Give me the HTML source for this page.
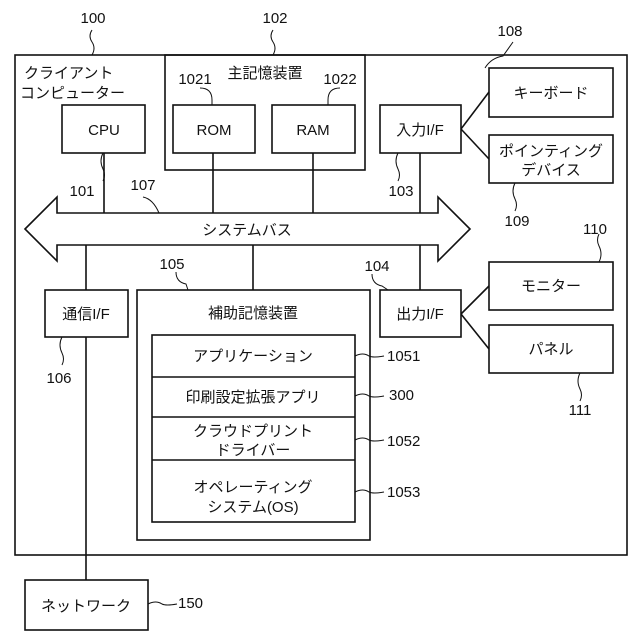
<!DOCTYPE html>
<html><head><meta charset="utf-8"><style>
html,body{margin:0;padding:0;background:#fff}
svg{display:block}
text{font-family:"Liberation Sans","Noto Sans CJK JP",sans-serif;font-size:15px;fill:#111}
.t{text-anchor:middle}
</style></head><body>
<svg width="640" height="640" viewBox="0 0 640 640" xmlns="http://www.w3.org/2000/svg">
<g fill="none" stroke="#111" stroke-width="1.6">
<rect x="15" y="55" width="612" height="500"/>
<rect x="165" y="55" width="200" height="115"/>
<rect x="62" y="105" width="83" height="48"/>
<rect x="173" y="105" width="82" height="48"/>
<rect x="272" y="105" width="83" height="48"/>
<rect x="380" y="105" width="81" height="48"/>
<rect x="489" y="68" width="124" height="49"/>
<rect x="489" y="135" width="124" height="48"/>
<path d="M25 229 L57 197 L57 213 L438 213 L438 197 L470 229 L438 261 L438 245 L57 245 L57 261 Z" fill="#fff"/>
<line x1="104" y1="153" x2="104" y2="213"/>
<line x1="213" y1="153" x2="213" y2="213"/>
<line x1="313" y1="153" x2="313" y2="213"/>
<line x1="420" y1="153" x2="420" y2="213"/>
<line x1="86" y1="245" x2="86" y2="290"/>
<line x1="253" y1="245" x2="253" y2="290"/>
<line x1="420" y1="245" x2="420" y2="290"/>
<line x1="461" y1="129" x2="489" y2="92"/>
<line x1="461" y1="129" x2="489" y2="159"/>
<rect x="45" y="290" width="83" height="47"/>
<rect x="137" y="290" width="233" height="250"/>
<rect x="152" y="335" width="203" height="187"/>
<line x1="152" y1="377" x2="355" y2="377"/>
<line x1="152" y1="417" x2="355" y2="417"/>
<line x1="152" y1="460" x2="355" y2="460"/>
<rect x="380" y="290" width="81" height="47"/>
<rect x="489" y="262" width="124" height="48"/>
<rect x="489" y="325" width="124" height="48"/>
<line x1="461" y1="314" x2="489" y2="286"/>
<line x1="461" y1="314" x2="489" y2="349"/>
<line x1="86" y1="337" x2="86" y2="580"/>
<rect x="25" y="580" width="123" height="50"/>
<g stroke-width="1">
<path d="M92 30 q-4 6 0 12 q4 6 0 13"/>
<path d="M273 30 q-4 6 0 12 q4 6 0 13"/>
<path d="M103 153 q-4 8 0 16 q3 6 0 12"/>
<path d="M143 197 q10 2 16 16"/>
<path d="M398 153 q-4 8 0 16 q3 6 0 12"/>
<path d="M176 272 q0 10 10 12 l2 6"/>
<path d="M372 274 q0 10 10 12 l6 4"/>
<path d="M62 337 q-4 8 0 16 q3 6 0 12"/>
<path d="M200 88 q12 0 12 12 l0 5"/>
<path d="M340 88 q-12 0 -12 12 l0 5"/>
<path d="M485 68 q6 -10 18 -12 l10 -14"/>
<path d="M515 183 q-4 8 0 16 q3 6 0 12"/>
<path d="M599 262 q4 -8 0 -16 q-3 -6 0 -12"/>
<path d="M580 373 q-4 8 0 16 q3 6 0 12"/>
<path d="M355 356 q8 -4 14 0 q4 2 15 0"/>
<path d="M355 396 q8 -4 14 0 q4 2 15 0"/>
<path d="M355 440 q8 -4 14 0 q4 2 15 0"/>
<path d="M355 492 q8 -4 14 0 q4 2 15 0"/>
<path d="M148 604 q8 -4 14 0 q4 2 15 0"/>
</g>
</g>
<text class="t" x="93" y="23">100</text>
<text class="t" x="275" y="23">102</text>
<text class="t" x="510" y="36">108</text>
<text x="24" y="78">クライアント</text>
<text x="20" y="98">コンピューター</text>
<text class="t" x="265" y="78">主記憶装置</text>
<text class="t" x="195" y="84">1021</text>
<text class="t" x="340" y="84">1022</text>
<text class="t" x="104" y="135">CPU</text>
<text class="t" x="214" y="135">ROM</text>
<text class="t" x="313" y="135">RAM</text>
<text class="t" x="420" y="135">入力I/F</text>
<text class="t" x="551" y="98">キーボード</text>
<text class="t" x="551" y="156">ポインティング</text>
<text class="t" x="551" y="175">デバイス</text>
<text class="t" x="82" y="196">101</text>
<text class="t" x="143" y="190">107</text>
<text class="t" x="401" y="196">103</text>
<text class="t" x="517" y="226">109</text>
<text class="t" x="247" y="235">システムバス</text>
<text class="t" x="595" y="234">110</text>
<text class="t" x="172" y="269">105</text>
<text class="t" x="377" y="271">104</text>
<text class="t" x="86" y="319">通信I/F</text>
<text class="t" x="253" y="318">補助記憶装置</text>
<text class="t" x="420" y="319">出力I/F</text>
<text class="t" x="551" y="291">モニター</text>
<text class="t" x="551" y="354">パネル</text>
<text class="t" x="253" y="361">アプリケーション</text>
<text class="t" x="253" y="402">印刷設定拡張アプリ</text>
<text class="t" x="253" y="436">クラウドプリント</text>
<text class="t" x="253" y="455">ドライバー</text>
<text class="t" x="253" y="492">オペレーティング</text>
<text class="t" x="253" y="512">システム(OS)</text>
<text x="387" y="361">1051</text>
<text x="389" y="400">300</text>
<text x="387" y="446">1052</text>
<text x="387" y="497">1053</text>
<text class="t" x="59" y="383">106</text>
<text class="t" x="580" y="415">111</text>
<text class="t" x="86" y="611">ネットワーク</text>
<text x="178" y="608">150</text>
</svg>
</body></html>
